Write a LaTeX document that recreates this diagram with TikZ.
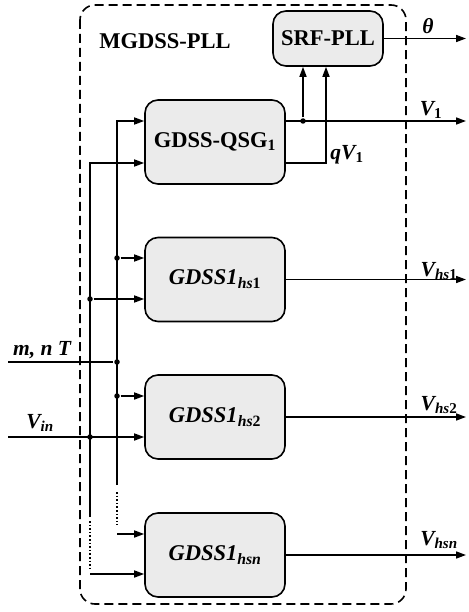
\documentclass[tikz,border=0pt]{standalone}
\usepackage{fontspec}
\setmainfont{Liberation Serif}
\usetikzlibrary{arrows.meta, positioning}

\begin{document}
\begin{tikzpicture}[
    x=1pt, y=-1pt,
    line width=1.6pt,
    blk/.style={rectangle, draw, rounded corners=13pt, fill=black!8, minimum width=140pt, minimum height=84pt, font=\fontsize{22.5}{26}\selectfont\bfseries},
    lbl/.style={font=\fontsize{21.5}{24}\selectfont\bfseries\itshape, inner sep=0pt},
    dot/.style={circle, fill, inner sep=0pt, minimum size=5.5pt},
    arrow/.style={-{Triangle[length=10pt, width=7pt]}}
]
\useasboundingbox (0,0) rectangle (468,612);
\draw[dash pattern=on 9pt off 5pt, rounded corners=15pt] (80,5) rectangle (406,604);
\node[font=\fontsize{22.5}{26}\selectfont\bfseries] (title) at (165,41) {MGDSS-PLL};

% blocks
\node[blk, minimum width=110pt, minimum height=55pt] (srf) at (328,38.5) {SRF-PLL};
\node[blk] (qsg) at (215,142) {GDSS-QSG\textsubscript{1}};
\node[blk, font=\fontsize{22.5}{26}\selectfont\bfseries\itshape] (hs1) at (215,279.5) {GDSS1\textsubscript{hs\textup{1}}};
\node[blk, font=\fontsize{22.5}{26}\selectfont\bfseries\itshape] (hs2) at (215,417) {GDSS1\textsubscript{hs\textup{2}}};
\node[blk, font=\fontsize{22.5}{26}\selectfont\bfseries\itshape] (hsn) at (215,555) {GDSS1\textsubscript{hsn}};

% junctions and ends
\coordinate (outx) at (466,0);
\coordinate (min) at (8,362);
\coordinate (vin) at (8,437);
\coordinate (mend) at (117,485);
\coordinate (vend) at (90,517);
\coordinate (mdot) at (117,534);
\coordinate (vdot) at (90,574);
\node[dot] (j0) at (303,121) {};
\node[dot] (j1) at (117,258) {};
\node[dot] (j2) at (90,299) {};
\node[dot] (j3) at (117,362) {};
\node[dot] (j4) at (117,396) {};
\node[dot] (j5) at (90,437) {};

% inputs
\draw[arrow] (mend) |- ([yshift=21pt]qsg.west);
\draw[arrow] (vend) |- ([yshift=-21pt]qsg.west);
\draw[arrow] (j1) -- (j1 -| hs1.west);
\draw[arrow] (j2) -- (j2 -| hs1.west);
\draw[arrow] (j4) -- (j4 -| hs2.west);
\draw[arrow] (vin) -- (vin -| hs2.west);
\draw (min) -- (j3);
\draw[dotted, line width=1.6pt] ([yshift=-7pt]mend) -- ([yshift=9pt]mdot);
\draw[dotted, line width=1.6pt] ([yshift=-4pt]vend) -- ([yshift=6pt]vdot);
\draw[arrow] (mdot) -- (mdot -| hsn.west);
\draw[arrow] (vdot) -- (vdot -| hsn.west);

% outputs
\draw[arrow] (j0 -| qsg.east) -- (j0 -| outx);
\draw[arrow] (j0) -- (j0 |- srf.south);
\draw[arrow] ([yshift=-21pt]qsg.east) -| ([xshift=-2pt]srf.south);
\draw[arrow] (srf) -- (srf -| outx);
\draw[arrow] (hs1) -- (hs1 -| outx);
\draw[arrow] (hs2) -- (hs2 -| outx);
\draw[arrow] (hsn) -- (hsn -| outx);

% labels
\node[lbl] (ltheta) at (428,26) {θ};
\node[lbl] (lv1) at (431,110) {V\textsubscript{\textup{1}}};
\node[lbl] (lqv1) at (347,155) {qV\textsubscript{\textup{1}}};
\node[lbl] (lhs1) at (439,271) {V\textsubscript{hs\textup{1}}};
\node[lbl] (lhs2) at (439,405) {V\textsubscript{hs\textup{2}}};
\node[lbl] (lhsn) at (439,540) {V\textsubscript{hsn}};
\node[lbl] (lvin) at (40,423) {V\textsubscript{in}};
\node[lbl] (lmn) at (42,350) {m, n T};
\end{tikzpicture}
\end{document}
